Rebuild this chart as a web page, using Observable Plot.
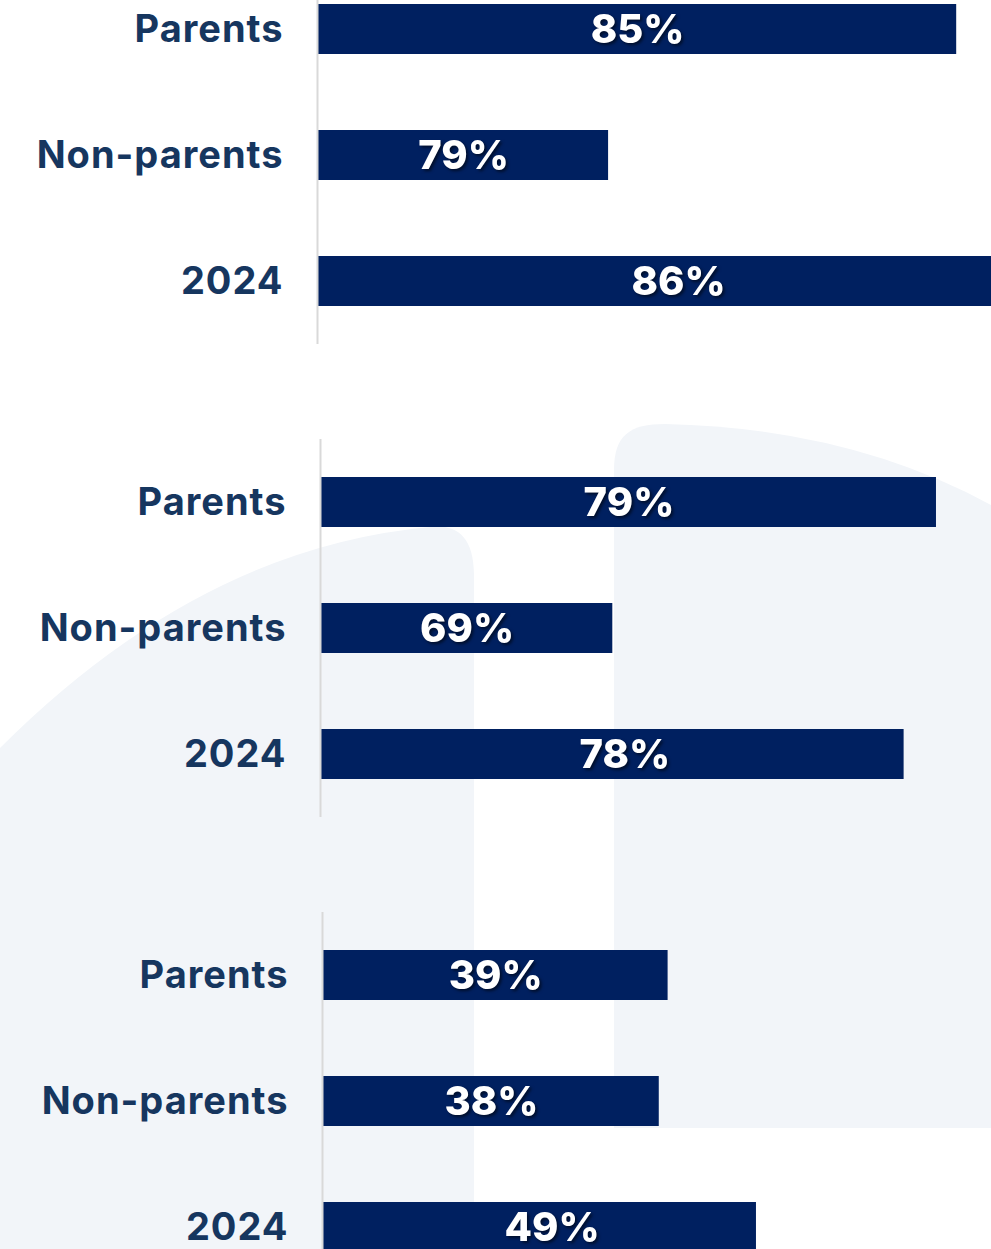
<!DOCTYPE html>
<html>
<head>
<meta charset="utf-8">
<script src="https://cdn.jsdelivr.net/npm/d3@7"></script>
<script src="https://cdn.jsdelivr.net/npm/@observablehq/plot@0.6"></script>
<style>
  html, body { margin: 0; padding: 0; background: #fff; overflow: hidden; }
  #wrap { position: relative; width: 991px; height: 1249px; overflow: hidden; }
  #bg { position: absolute; left: 0; top: 0; }
  .panel { position: relative; display: block; }
  .panel svg { overflow: hidden; background: transparent !important; }
</style>
</head>
<body>
<div id="wrap">
  <svg id="bg" width="991" height="1249" viewBox="0 0 991 1249">
    <path d="M0,748 Q200,548 430,527 C455,524 474,535 474,575 V1249 H0 Z" fill="#f2f5f9"/>
    <path d="M614,1128 V470 C614,435 630,424 665,424 Q850,428 991,505 L1100,570 V1128 Z" fill="#f2f5f9"/>
  </svg>
  <div id="charts"></div>
</div>
<script>
// ---- data ----
const categories = ["Parents", "Non-parents", "2024"];
const panel1Values = [85, 79, 86];
const panel2Values = [79, 69, 78];
const panel3Values = [39, 38, 49];

// ---- per-panel scale setup (axis baselines differ between panels) ----
const panelDomains = [[74, 85.6], [60, 80.7], [0, 75.6]];
const panelMarginLeft = [318, 321, 323];
const panelOffsetTop = [-34, 95, 95];

const navy = "#002060";
const labelColor = "#16365f";

const allValues = [panel1Values, panel2Values, panel3Values];
const charts = document.getElementById("charts");

allValues.forEach((vals, i) => {
  const rows = categories.map((c, j) => ({category: c, value: vals[j]}));
  const base = panelDomains[i][0];
  const labelOpts = {
    x: d => (base + d.value) / 2,
    y: "category",
    text: d => d.value + "%",
    fill: "white",
    fontSize: 40,
    fontWeight: 800,
    dy: 1
  };
  const chart = Plot.plot({
    width: 991,
    height: 378,
    marginLeft: panelMarginLeft[i],
    marginRight: 0,
    marginTop: 0,
    marginBottom: 0,
    style: {background: "transparent", fontFamily: "Inter, sans-serif"},
    x: {domain: panelDomains[i], axis: null},
    y: {domain: categories, paddingInner: 76 / 126, paddingOuter: 38 / 126, label: null},
    marks: [
      Plot.barX(rows, {x1: () => base, x2: "value", y: "category", fill: navy}),
      Plot.ruleX([base], {stroke: "#d9d9d9", strokeWidth: 2, dx: -1}),
      Plot.axisY({
        tickSize: 0,
        tickPadding: 35,
        fontSize: 38,
        fontWeight: 700,
        fill: labelColor,
        label: null
      }),
      Plot.text(rows.filter(d => d.category !== "2024"), labelOpts),
      Plot.text(rows.filter(d => d.category === "2024"), {...labelOpts, dx: 12})
    ]
  });
  const holder = document.createElement("div");
  holder.className = "panel";
  holder.style.marginTop = panelOffsetTop[i] + "px";
  holder.appendChild(chart);
  charts.appendChild(holder);
  d3.select(chart).selectAll("g[aria-label='text'] text")
    .style("filter", "drop-shadow(2px 2px 1.5px rgba(0,0,0,0.55))");
  d3.select(chart).selectAll("g[aria-label='y-axis tick label'] text")
    .style("font-family", "Inter, sans-serif")
    .style("letter-spacing", "1px");
});
</script>
</body>
</html>
